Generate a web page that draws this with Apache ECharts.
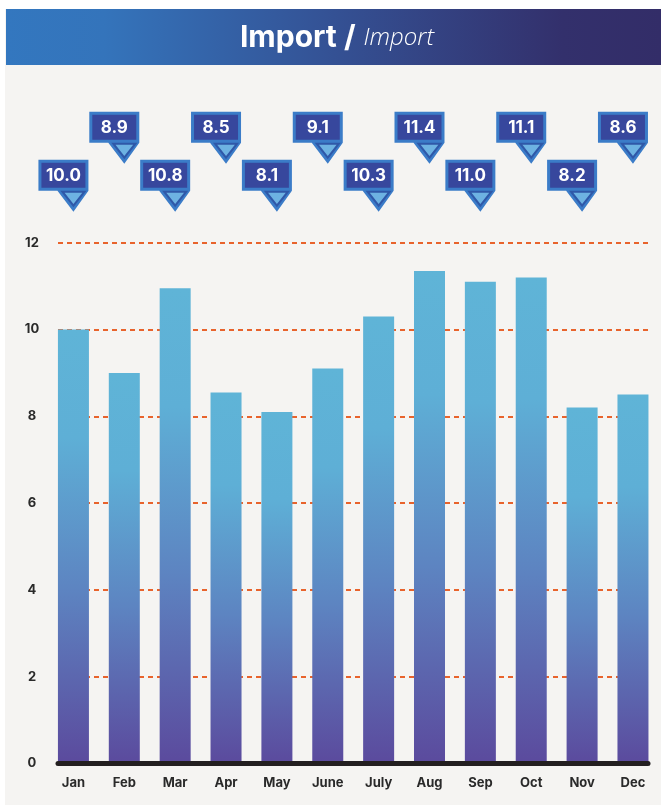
<!DOCTYPE html>
<html>
<head>
<meta charset="utf-8">
<script src="https://cdn.jsdelivr.net/npm/echarts@6/dist/echarts.min.js"></script>
<style>
  html, body { margin: 0; padding: 0; background: #ffffff; }
  #main { width: 661px; height: 805px; }
</style>
</head>
<body>
<div id="main"></div>
<script>
// monthly import values
const months = ['Jan', 'Feb', 'Mar', 'Apr', 'May', 'June', 'July', 'Aug', 'Sep', 'Oct', 'Nov', 'Dec'];
const imports = [10.0, 9.0, 10.95, 8.55, 8.1, 9.1, 10.3, 11.35, 11.1, 11.2, 8.2, 8.5];
const printed = ['10.0', '8.9', '10.8', '8.5', '8.1', '9.1', '10.3', '11.4', '11.0', '11.1', '8.2', '8.6'];
const yTicks = [0, 2, 4, 6, 8, 10, 12];

const FONT = 'Inter, "Noto Sans", sans-serif';
const gridTop = 242.7, gridBottom = 41.5;
const yMax = yTicks[yTicks.length - 1];

var chartDom = document.getElementById('main');
var myChart = echarts.init(chartDom);

const callout = (params, api) => {
    const i = api.value(0);
    const p = api.coord([i, yMax]);
    const cx = p[0];
    const t = p[1] - (i % 2 === 0 ? 83 : 131);
    const L = cx - 35, R = cx + 15, H = 31, B = t + H;
    return {
        type: 'group',
        children: [
            { type: 'polygon', shape: { points: [[L, t], [R, t], [R, B], [cx, B + 21], [cx - 16, B], [L, B]] }, style: { fill: '#3b7cc8' } },
            { type: 'rect', shape: { x: L + 3, y: t + 3, width: R - L - 6, height: H - 6 }, style: { fill: '#37479d' } },
            { type: 'polygon', shape: { points: [[cx - 11, B + 1], [R - 4, B + 1], [cx, B + 15]] }, style: { fill: '#6db2e2', stroke: '#2f58a8', lineWidth: 2 } },
            { type: 'text', style: { text: printed[i], x: (L + R) / 2, y: t + H / 2 + 1, align: 'center', verticalAlign: 'middle', fill: '#ffffff', fontSize: 17, fontWeight: 'bold', fontFamily: FONT } }
        ]
    };
};

var option = {
    backgroundColor: '#f5f4f2',
    animation: false,
    graphic: [
        { type: 'rect', shape: { x: 0, y: 0, width: 661, height: 9 }, style: { fill: '#ffffff' } },
        { type: 'rect', shape: { x: 0, y: 0, width: 5, height: 805 }, style: { fill: '#ffffff' } },
        {
            type: 'rect', shape: { x: 6, y: 9, width: 655, height: 56 },
            style: {
                fill: new echarts.graphic.LinearGradient(0, 0, 1, 0, [
                    { offset: 0, color: '#3377bf' },
                    { offset: 0.15, color: '#3474bb' },
                    { offset: 0.5, color: '#345194' },
                    { offset: 0.85, color: '#33306c' },
                    { offset: 1, color: '#332d68' }
                ])
            }
        },
        {
            type: 'text', x: 337, y: 38,
            style: {
                text: '{b|Import /}{s| }{i|Import}',
                align: 'center', verticalAlign: 'middle',
                rich: {
                    b: { fontSize: 30, fontWeight: 'bold', fontFamily: FONT, fill: '#ffffff', color: '#ffffff' },
                    s: { fontSize: 24, width: 8 },
                    i: { fontSize: 24, fontStyle: 'italic', fontWeight: 300, fontFamily: '"Open Sans", sans-serif', fill: '#ffffff', color: '#ffffff' }
                }
            }
        }
    ],
    grid: [
        { left: 58, right: 13, top: gridTop, bottom: gridBottom },
        { left: 48, right: 2.6, top: gridTop, bottom: gridBottom }
    ],
    xAxis: [
        {
            gridIndex: 0, type: 'category', data: months, z: 10,
            axisLine: { lineStyle: { color: '#231f20', width: 5 } },
            axisTick: { show: false }, axisLabel: { show: false }
        },
        {
            gridIndex: 1, type: 'category', data: months,
            axisLine: { show: false }, axisTick: { show: false },
            axisLabel: { margin: 13, color: '#2a2a2a', fontSize: 13, fontWeight: 'bold', fontFamily: FONT }
        }
    ],
    yAxis: [
        {
            gridIndex: 0, type: 'value', min: yTicks[0], max: yMax, interval: yTicks[1] - yTicks[0],
            axisLine: { show: false }, axisTick: { show: false },
            axisLabel: { margin: 26, align: 'center', color: '#2a2a2a', fontSize: 13, fontWeight: 'bold', fontFamily: FONT },
            splitLine: { lineStyle: { color: '#e8632c', width: 2, type: [5, 4] } }
        },
        {
            gridIndex: 1, type: 'value', min: yTicks[0], max: yMax, show: false
        }
    ],
    series: [
        {
            name: 'Import',
            type: 'bar',
            xAxisIndex: 1, yAxisIndex: 1,
            barWidth: 31,
            data: imports,
            itemStyle: {
                color: new echarts.graphic.LinearGradient(0, 0, 0, 1, [
                    { offset: 0, color: '#5fb4d7' },
                    { offset: 0.25, color: '#5eafd6' },
                    { offset: 0.6, color: '#5d84c1' },
                    { offset: 1, color: '#5b4a9d' }
                ])
            }
        },
        {
            type: 'custom',
            xAxisIndex: 1, yAxisIndex: 1,
            clip: false, z: 5,
            renderItem: callout,
            data: printed.map((v, i) => [i, +v])
        }
    ]
};

myChart.setOption(option);
</script>
</body>
</html>
